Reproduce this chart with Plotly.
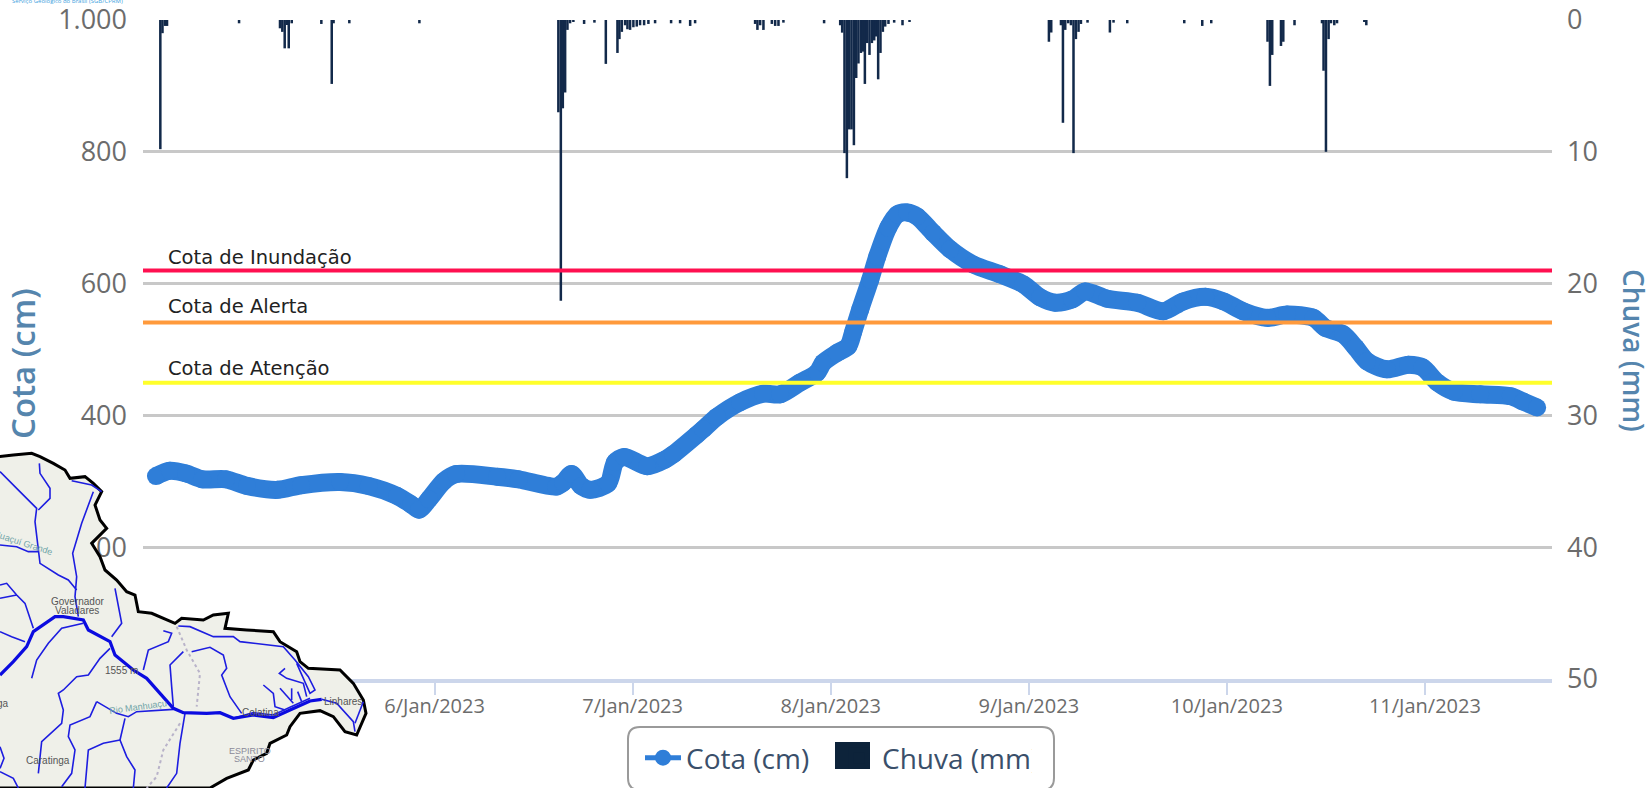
import pandas as pd
import plotly.graph_objects as go

BASE = pd.Timestamp("2023-01-06")

# River level: hours after 6 Jan 2023 00:00 and level in cm
cota_hours = [-33.76,-32.06,-30.12,-28.12,-25.27,-22.73,-19.03,-16.18,-11.45,-7.99,-4.55,-2.85,-1.88,-0.67,1.10,2.61,
              7.58,10.19,14.73,15.58,16.60,17.76,18.85,21.03,21.88,22.97,25.76,27.94,28.91,31.8,32.54,34.24,37.03,
              39.82,41.88,44.30,46.36,47.09,48.79,50.12,50.73,51.58,52.79,53.64,54.97,56.06,57.27,58.48,60.42,62.48,
              65.27,68.54,71.33,73.39,75.2,77.27,78.85,81.5,85.15,88.3,90.7,93.4,95.6,98.0,100.9,103.3,106.5,107.9,
              110.1,111.6,113.0,115.4,118.0,119.7,121.5,123.5,126.7,130.4,131.9,133.6]
cota_cm = [308,316,312,303,303,293,287,294,299,293,278,265,257,273,300,311,
           307,303,292,298,311,293,287,297,329,337,323,333,341,371,379,398,420,
           433,432,450,465,480,495,505,527,561,606,641,685,705,708,702,677,652,
           629,614,599,579,571,576,588,577,571,558,573,580,573,558,548,553,548,533,
           523,503,482,470,477,473,450,436,432,429,421,412]

# Rain: hours after 6 Jan 2023 00:00 and rainfall in mm
chuva_hours = [-33.23,-32.97,-32.66,-32.42,-23.69,-18.73,-18.45,-18.16,-17.88,-17.67,-17.31,-13.72,-12.46,-12.24,-10.33,-1.84,
               15.0,15.3,15.54,15.82,16.1,16.42,16.82,18.12,19.37,20.75,22.16,22.4,22.69,23.09,23.37,23.69,24.09,24.5,24.9,25.39,25.91,26.72,
               28.66,29.75,30.97,31.57,38.84,39.12,39.45,39.85,40.87,41.27,41.67,42.27,
               47.2,49.15,49.39,49.67,49.96,50.24,50.52,50.81,51.09,51.36,51.66,51.9,52.14,52.42,52.70,52.99,53.27,53.51,53.75,54.03,54.32,54.6,55.0,55.69,56.7,57.55,
               74.44,74.72,75.9,76.14,76.42,76.78,77.11,77.42,77.71,78.03,78.32,79.12,81.83,82.27,83.93,90.84,93.02,94.11,
               100.93,101.22,101.5,102.56,102.84,104.2,107.53,107.72,108.01,108.33,108.62,109.02,109.35,112.66,112.9]
chuva_mm = [9.8,1.0,.45,.45,.25,.63,.9,2.15,.38,2.15,.25,.3,4.85,.25,.25,.25,
            7.0,21.3,6.7,5.5,.75,.25,.15,.3,.2,3.33,2.5,1.45,.9,.4,.7,.75,.55,.5,.4,.4,.3,.25,
            .25,.25,.45,.25,.3,.75,.4,.75,.3,.45,.45,.2,
            .25,.4,.96,10.1,12.0,8.3,8.3,9.5,4.4,3.3,2.5,2.4,4.85,1.75,2.65,1.75,1.55,1.25,4.5,2.5,.9,.5,.3,.2,.4,.15,
            1.65,.95,.4,7.8,.75,.25,.4,10.1,1.45,.9,.3,.2,.95,.2,.25,.25,.45,.25,
            1.65,5.0,2.65,1.97,1.65,.4,.25,3.85,10.0,1.45,.25,.4,.25,.15,.4]

limiares_nome = ["Cota de Inundação", "Cota de Alerta", "Cota de Atenção"]
limiares_cm = [620, 541, 449.5]
limiares_cor = ["#ff1050", "#ff9a3c", "#ffff2a"]
limiares_texto_cm = [639, 565, 471]

x_range_hours = [-35.33, 135.4]
y_ticks = [0, 200, 400, 600, 800, 1000]
y_ticktext = ["0", "200", "400", "600", "800", "1.000"]
y2_ticks = [0, 10, 20, 30, 40, 50]
x_tick_days = [6, 7, 8, 9, 10, 11]
x_ticktext = [f"{d}/Jan/2023" for d in x_tick_days]

W, H = 1648, 788
def dates(hours):
    return [BASE + pd.Timedelta(hours=h) for h in hours]
def px(x): return x / W
def py(y): return 1 - y / H

# ---------- decorative map overlay (map-image units: 3 per screen pixel, from y=420) ----------
map_outline = [(-5,110),(40,105),(95,100),(120,110),(160,130),(195,150),(210,175),(255,170),(280,190),(305,215),(285,255),
               (300,300),(320,325),(275,370),(300,410),(315,450),(350,480),(380,515),(405,525),(415,575),(455,580),(525,610),
               (545,595),(610,600),(640,585),(685,580),(675,625),(740,630),(820,635),(840,665),(890,695),(900,725),(925,745),
               (1020,750),(1060,790),(1090,840),(1098,880),(1070,945),(1035,935),(1000,890),(960,872),(900,880),(870,920),
               (860,945),(810,970),(800,1000),(760,1020),(745,1050),(680,1075),(630,1104),(-5,1104)]
rio_principal = [(0,765),(40,725),(80,680),(100,635),(165,590),(190,590),(250,600),(265,630),(330,665),(345,705),(400,750),
                 (440,775),(480,820),(520,865),(550,878),(620,880),(660,878),(700,895),(760,885),(820,893),(870,870),(930,843),(965,838)]
rios = [
 [(965,838),(1010,850),(1060,905),(1065,935)],
 [(0,155),(50,205),(110,265),(105,305),(120,430),(175,465),(205,480),(230,510)],
 [(118,130),(120,160),(150,205),(150,235),(115,270)],
 [(215,182),(275,195),(305,215)],
 [(280,215),(245,310),(218,400),(230,470),(225,530),(235,590)],
 [(0,375),(50,380),(85,395),(115,395)],
 [(0,495),(20,490),(50,525),(75,550),(100,625)],
 [(0,535),(50,525)],
 [(0,635),(35,650),(75,665)],
 [(95,775),(110,720),(145,670),(185,625),(250,610)],
 [(345,505),(365,610),(335,650)],
 [(330,685),(300,715),(265,765),(230,770),(190,810),(175,820),(190,870),(185,910),(125,965),(115,1060)],
 [(290,845),(350,880),(385,890),(410,875),(520,868)],
 [(290,845),(270,890),(210,915),(205,950),(225,990),(215,1060),(185,1100)],
 [(375,895),(360,960),(380,1010),(405,1050),(400,1104)],
 [(360,960),(310,970),(265,990),(255,1104)],
 [(555,880),(540,970),(530,1060),(500,1104)],
 [(490,632),(515,640),(505,665),(445,690),(430,750)],
 [(550,695),(510,735),(515,800),(520,860)],
 [(575,695),(630,682),(670,705),(680,745),(665,765),(690,830),(725,880)],
 [(535,618),(570,620),(640,650),(700,650),(720,665),(850,680),(885,720),(925,770),(945,810),(930,820),(890,730)],
 [(855,745),(838,760),(860,775),(910,790),(920,830)],
 [(790,795),(820,820),(825,860),(855,870)],
 [(840,805),(880,850)],[(875,805),(875,840)],[(893,815),(905,845)],
 [(1090,845),(1065,910)],
 [(0,1055),(40,1075),(55,1104)],[(0,980),(12,1015),(0,1045)],
 [(700,895),(760,878),(820,885),(870,862),(930,835)],
]
cristas = [[(530,620),(560,690),(600,760),(590,860)],[(540,910),(490,990),(470,1070),(440,1104)]]
map_textos = [("Governador",232,543,10,0,"#555"),("Valadares",232,570,10,0,"#555"),("Caratinga",145,1020,10,0,"#555"),
              ("Linhares",1030,843,10,0,"#555"),("Colatina",780,878,10,0,"#555"),("ESPIRITO",750,992,9,0,"#8a8a98"),
              ("SANTO",750,1018,9,0,"#8a8a98"),("1555 m",365,752,10,0,"#555"),("Rio Manhuaçu",415,860,9,-8,"#6fa5a8"),
              ("Suaçuí Grande",70,370,9,18,"#6fa5a8"),("ga",10,850,10,0,"#555")]

def mx(z): return z / 3 / W
def my(z): return 1 - (420 + z / 3) / H
def path(pts, close=False):
    return "M" + " L".join(f"{mx(a):.5f},{my(b):.5f}" for a, b in pts) + (" Z" if close else "")

shapes = []
shapes.append(dict(type="path", xref="paper", yref="paper", path=path(map_outline, True), fillcolor="#eff0e9",
                   line=dict(color="#000000", width=3), layer="above"))
for c in cristas:
    shapes.append(dict(type="path", xref="paper", yref="paper", path=path(c), line=dict(color="#b9b3c9", width=2, dash="dot"), layer="above"))
for r in rios:
    shapes.append(dict(type="path", xref="paper", yref="paper", path=path(r), line=dict(color="#1d1de0", width=1.6), layer="above"))
shapes.append(dict(type="path", xref="paper", yref="paper", path=path(rio_principal), line=dict(color="#0b0be0", width=3.2), layer="above"))

# legend frame with rounded corners
lx0, lx1, ly0, ly1, rr = px(628), px(1054), py(727), py(790), 12
rx, ry = rr / W, rr / H
shapes.append(dict(type="path", xref="paper", yref="paper", layer="above", fillcolor="#ffffff", line=dict(color="#9a9a9a", width=2),
    path=(f"M{lx0+rx},{ly0} L{lx1-rx},{ly0} Q{lx1},{ly0} {lx1},{ly0-ry} L{lx1},{ly1+ry} Q{lx1},{ly1} {lx1-rx},{ly1} "
          f"L{lx0+rx},{ly1} Q{lx0},{ly1} {lx0},{ly1+ry} L{lx0},{ly0-ry} Q{lx0},{ly0} {lx0+rx},{ly0} Z")))
# larger legend swatch for Chuva
shapes.append(dict(type="rect", xref="paper", yref="paper", layer="above", x0=px(835), x1=px(870), y0=py(742), y1=py(769),
                   fillcolor="#0d233a", line=dict(width=0)))

fig = go.Figure()
fig.add_trace(go.Bar(x=dates(chuva_hours), y=chuva_mm, yaxis="y2", width=1100000, name="Chuva (mm)",
                     marker=dict(color="#12294a", line=dict(width=0)), showlegend=False, hoverinfo="x+y"))
fig.add_trace(go.Scatter(x=dates(cota_hours), y=cota_cm, yaxis="y", mode="lines+markers", name="Cota (cm)",
                         line=dict(color="#2f7ed8", width=18, shape="spline", smoothing=0.8),
                         marker=dict(color="#2f7ed8", size=18), showlegend=False))
xr = dates(x_range_hours)
for nome, v, cor in zip(limiares_nome, limiares_cm, limiares_cor):
    fig.add_trace(go.Scatter(x=xr, y=[v, v], yaxis="y", mode="lines", name=nome, line=dict(color=cor, width=4), showlegend=False))
# legend entries
fig.add_trace(go.Scatter(x=[None], y=[None], mode="lines+markers", name="Cota (cm)",
                         line=dict(color="#2f7ed8", width=5), marker=dict(color="#2f7ed8", size=16, symbol="circle")))
fig.add_trace(go.Scatter(x=[None], y=[None], mode="markers", name="Chuva (mm)",
                         marker=dict(color="#0d233a", size=16, symbol="square", line=dict(color="#0d233a", width=5))))

annotations = []
for nome, v in zip(limiares_nome, limiares_texto_cm):
    annotations.append(dict(text=nome, xref="paper", yref="y", x=px(166), y=v, xanchor="left", yanchor="middle", showarrow=False,
                            font=dict(family="DejaVu Sans", size=19.5, color="#222222")))
annotations.append(dict(text="Cota (cm)", xref="paper", yref="paper", x=px(23), y=py(364), xanchor="center", yanchor="middle", textangle=-90, showarrow=False,
                        font=dict(family="Open Sans", size=33, color="#5585ad", weight=600)))
annotations.append(dict(text="Chuva (mm)", xref="paper", yref="paper", x=px(1634), y=py(350), xanchor="center", yanchor="middle", textangle=90, showarrow=False,
                        font=dict(family="Open Sans", size=28, color="#5585ad", weight=600)))
annotations.append(dict(text="Serviço Geológico do Brasil (SGB/CPRM)", xref="paper", yref="paper", x=px(10), y=py(1), xanchor="left", yanchor="middle",
                        showarrow=False, font=dict(family="Open Sans", size=6, color="#3fa3e0")))
for t, a, b, s, ang, col in map_textos:
    annotations.append(dict(text=t, xref="paper", yref="paper", x=mx(a), y=my(b), xanchor="center", yanchor="middle", showarrow=False, textangle=ang,
                            font=dict(family="Liberation Sans", size=s, color=col)))

y_top, y_bot = 20, 679
fig.update_layout(
    width=W, height=H, margin=dict(l=0, r=0, t=0, b=0, autoexpand=False), plot_bgcolor="#ffffff", paper_bgcolor="#ffffff",
    barmode="overlay", font=dict(family="Open Sans"),
    xaxis=dict(domain=[px(143), px(1552)], range=xr, type="date", anchor="y", showgrid=False,
               tickvals=[BASE + pd.Timedelta(days=d - 6) for d in x_tick_days], ticktext=x_ticktext,
               ticks="outside", ticklen=12, tickwidth=1.5, tickcolor="#ccd6eb", showline=True, linecolor="#ccd6eb", linewidth=4,
               ticklabelstandoff=-6,
               tickfont=dict(family="Open Sans", size=20, color="#6c6c6c"), zeroline=False),
    yaxis=dict(domain=[py(y_bot), py(y_top)], range=[0, 1000], overlaying="y2", side="left", anchor="x",
               tickvals=y_ticks[1:], ticktext=y_ticktext[1:], showgrid=True, gridcolor="#c8c8c8", gridwidth=2.5,
               ticks="", ticklabelstandoff=15, showline=False, zeroline=False,
               tickfont=dict(family="Open Sans", size=27, color="#6c6c6c")),
    yaxis2=dict(domain=[py(y_bot), py(y_top)], range=[50, 0], side="right", anchor="x",
                tickvals=y2_ticks, showgrid=False, ticks="", ticklabelstandoff=14, showline=False, zeroline=False,
                tickfont=dict(family="Open Sans", size=27, color="#6c6c6c")),
    legend=dict(orientation="h", x=px(640), y=py(733), xanchor="left", yanchor="top", bgcolor="rgba(0,0,0,0)", borderwidth=0,
                font=dict(family="Open Sans", size=28, color="#3a4f6a"), itemwidth=36, traceorder="normal",
                entrywidth=145, entrywidthmode="pixels"),
    shapes=shapes, annotations=annotations, showlegend=True,
)
fig.write_html("out.html", config={"displayModeBar": False},
               post_script="document.body.style.margin='0';document.body.style.overflow='hidden';")
